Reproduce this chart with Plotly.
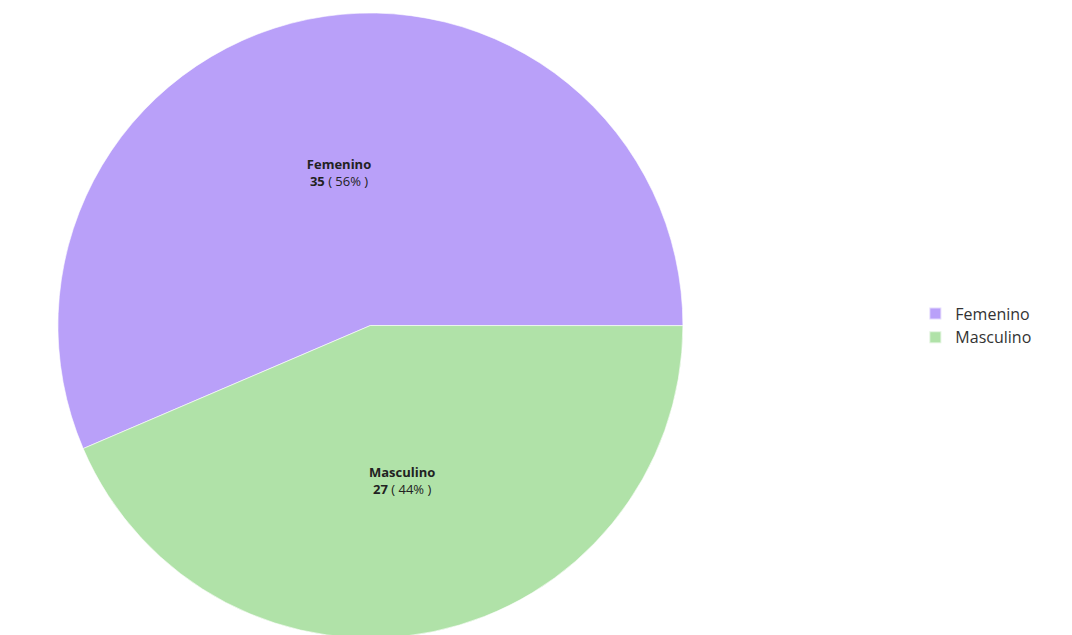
import plotly.graph_objects as go

categories = ["Femenino", "Masculino"]
values = [35, 27]
colors = ["#B9A0F9", "#B0E2A8"]

fig = go.Figure(
    go.Pie(
        labels=categories,
        values=values,
        sort=False,
        direction="clockwise",
        rotation=-113.2,
        marker=dict(colors=colors, line=dict(color="rgba(255,255,255,0.6)", width=1)),
        texttemplate="<b>%{label}</b><br><b>%{value}</b> ( %{percent:.0%} )",
        textposition="inside",
        insidetextorientation="horizontal",
        textfont=dict(family="Open Sans, Noto Sans, sans-serif", size=13, color="#222"),
        hoverinfo="label+value+percent",
        domain=dict(x=[0.0, 0.67], y=[0.0, 1.0]),
    )
)

fig.update_layout(
    width=1072,
    height=635,
    margin=dict(l=10, r=10, t=5, b=5),
    paper_bgcolor="white",
    plot_bgcolor="white",
    showlegend=True,
    legend=dict(
        x=0.853,
        y=0.5,
        xanchor="left",
        yanchor="middle",
        font=dict(family="Open Sans, Noto Sans, sans-serif", size=16, color="#333"),
        itemsizing="constant",
        tracegroupgap=4,
    ),
)

fig.write_html("out.html")
